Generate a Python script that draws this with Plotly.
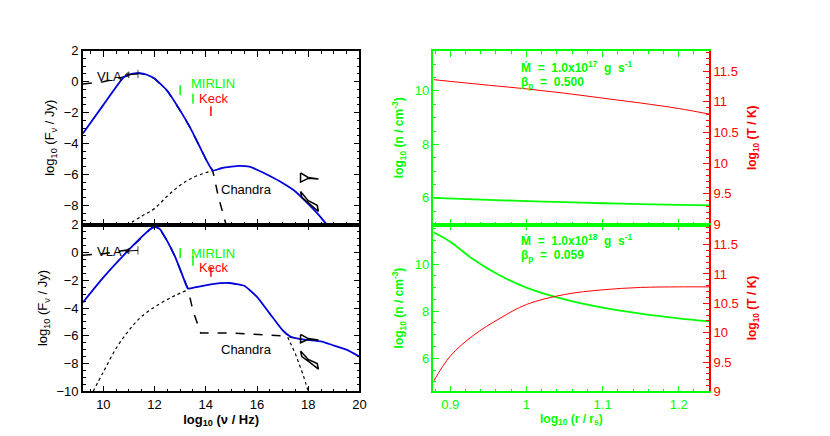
import plotly.graph_objects as go

# ---- SED, top panel (Mdot = 1e17)
top_sum_x = [9.2, 10.0, 10.8, 11.1, 11.4, 11.7, 12.0, 12.5, 13.05, 13.4, 13.7, 14.0, 14.27, 14.6, 15.0, 15.3, 15.7, 16.0, 16.5, 17.0, 17.5, 18.0, 18.4, 18.75]
top_sum_y = [-3.35, -1.5, 0.3, 0.5, 0.55, 0.45, 0.2, -0.6, -2.0, -3.0, -4.0, -5.0, -5.75, -5.6, -5.5, -5.45, -5.5, -5.7, -6.1, -6.55, -7.1, -7.9, -8.6, -9.3]
top_syn_x = [9.2, 10.0, 10.8, 11.1, 11.4, 11.7, 12.0, 12.5, 13.05, 13.4, 13.7, 14.0, 14.27, 14.5, 14.8]
top_syn_y = [-0.15, 0.0, 0.3, 0.5, 0.55, 0.45, 0.2, -0.6, -2.0, -3.0, -4.0, -5.0, -5.75, -7.5, -9.3]
top_comp_x = [10.9, 11.5, 12.0, 12.5, 13.0, 13.5, 14.27]
top_comp_y = [-9.3, -8.7, -8.2, -7.4, -6.7, -6.2, -5.75]

# ---- SED, bottom panel (Mdot = 1e18)
bot_sum_x = [9.2, 10.0, 11.0, 11.6, 11.85, 12.0, 12.2, 12.5, 12.8, 13.1, 13.3, 13.6, 14.2, 14.9, 15.5, 16.0, 16.5, 17.0, 17.3, 17.6, 18.0, 18.5, 19.0, 19.5, 20.0]
bot_sum_y = [-3.6, -1.8, 0.2, 1.3, 1.7, 1.85, 1.7, 0.8, -0.3, -1.7, -2.6, -2.5, -2.3, -2.2, -2.4, -3.2, -4.4, -5.6, -6.05, -6.2, -6.3, -6.4, -6.7, -7.0, -7.5]
bot_syn_x = [9.2, 10.0, 11.0, 11.6, 11.85, 12.0, 12.2, 12.5, 12.8, 13.1, 13.3, 13.5, 13.8, 15.0, 16.0, 17.0, 17.5]
bot_syn_y = [-0.2, -0.1, 0.2, 1.3, 1.7, 1.85, 1.7, 0.8, -0.3, -1.7, -2.6, -4.2, -5.8, -5.8, -5.9, -6.0, -6.15]
bot_comp_x = [9.6, 10.0, 10.5, 11.0, 11.5, 12.2, 12.8, 13.3]
bot_comp_y = [-10.0, -8.6, -6.9, -5.6, -4.6, -3.7, -3.1, -2.7]
bot_comp2_x = [17.2, 17.5, 17.8, 18.0]
bot_comp2_y = [-6.1, -7.3, -8.8, -10.0]

mirlin_x = [13.0, 13.5]
mirlin_y = [-0.55, -1.1]
keck_x = [14.2]
keck_y = [-1.9]

# ---- radial profiles
r_top = [0.878, 0.95, 1.0, 1.05, 1.1, 1.15, 1.2, 1.24]
n_top = [6.0, 5.93, 5.88, 5.84, 5.8, 5.77, 5.74, 5.72]
t_top = [11.36, 11.27, 11.21, 11.14, 11.06, 10.98, 10.89, 10.8]
r_bot = [0.878, 0.9, 0.93, 0.966, 1.0, 1.05, 1.1, 1.15, 1.2, 1.24]
n_bot = [11.35, 10.95, 10.2, 9.5, 9.0, 8.5, 8.15, 7.9, 7.7, 7.57]
t_bot = [9.17, 9.6, 9.95, 10.25, 10.48, 10.65, 10.73, 10.77, 10.78, 10.78]

GREEN = "#00ff00"
RED = "#ff0000"
BLUE = "#0000dd"
FONT = "Liberation Sans"

fig = go.Figure()

def sed(xa, ya, sx, sy, dx, dy, extra=None):
    fig.add_trace(go.Scatter(x=dx, y=dy, mode="lines", line=dict(color="black", width=1.2, dash="dot", shape="spline"), xaxis=xa, yaxis=ya))
    if extra:
        fig.add_trace(go.Scatter(x=extra[0], y=extra[1], mode="lines", line=dict(color="black", width=1.2, dash="dot"), xaxis=xa, yaxis=ya))
    fig.add_trace(go.Scatter(x=sx, y=sy, mode="lines", line=dict(color="black", width=1.5, dash="dash"), xaxis=xa, yaxis=ya))

def total(xa, ya, x, y):
    fig.add_trace(go.Scatter(x=x, y=y, mode="lines", line=dict(color=BLUE, width=1.8, shape="spline", smoothing=0.4), xaxis=xa, yaxis=ya))

sed("x", "y", top_syn_x, top_syn_y, top_comp_x, top_comp_y)
total("x", "y", top_sum_x, top_sum_y)
sed("x2", "y2", bot_syn_x, bot_syn_y, bot_comp_x, bot_comp_y, (bot_comp2_x, bot_comp2_y))
total("x2", "y2", bot_sum_x, bot_sum_y)

for xa, ya, off, vla in [("x", "y", 0.0, 0.5), ("x2", "y2", 0.5, 0.15)]:
    fig.add_trace(go.Scatter(x=mirlin_x, y=[v + off for v in mirlin_y], mode="markers",
                             marker=dict(color=GREEN, size=7, symbol="line-ns", line=dict(color=GREEN, width=1.5)),
                             xaxis=xa, yaxis=ya))
    fig.add_trace(go.Scatter(x=keck_x, y=[v + off for v in keck_y], mode="markers",
                             marker=dict(color=RED, size=7, symbol="line-ns", line=dict(color=RED, width=1.5)),
                             xaxis=xa, yaxis=ya))
    fig.add_trace(go.Scatter(x=[10.95, 11.35], y=[vla - 0.05, vla], mode="lines+markers",
                             marker=dict(symbol=["triangle-left", "line-ns"], size=[5, 6], color="black", line=dict(color="black", width=1)),
                             line=dict(color="black", width=1), xaxis=xa, yaxis=ya))

# Chandra bowties
bow1_x = [17.7, 17.7, 18.0, 18.4, 18.0, 17.7]
bow1_y = [-5.9, -6.5, -6.25, -6.3, -6.2, -5.9]
bow2_x = [17.7, 17.75, 18.05, 18.4, 18.35, 18.0, 17.7]
bow2_y = [-7.1, -7.5, -7.9, -8.4, -8.0, -7.7, -7.1]
for xa, ya in [("x", "y"), ("x2", "y2")]:
    fig.add_trace(go.Scatter(x=bow1_x, y=bow1_y, mode="lines", line=dict(color="black", width=1.5), xaxis=xa, yaxis=ya))
    fig.add_trace(go.Scatter(x=bow2_x, y=bow2_y, mode="lines", line=dict(color="black", width=1.5), xaxis=xa, yaxis=ya))

# profiles
fig.add_trace(go.Scatter(x=r_top, y=n_top, mode="lines", line=dict(color=GREEN, width=1.8, shape="spline"), xaxis="x3", yaxis="y3"))
fig.add_trace(go.Scatter(x=r_top, y=t_top, mode="lines", line=dict(color=RED, width=1, shape="spline"), xaxis="x3", yaxis="y5"))
fig.add_trace(go.Scatter(x=r_bot, y=n_bot, mode="lines", line=dict(color=GREEN, width=1.8, shape="spline"), xaxis="x4", yaxis="y4"))
fig.add_trace(go.Scatter(x=r_bot, y=t_bot, mode="lines", line=dict(color=RED, width=1, shape="spline"), xaxis="x4", yaxis="y6"))

LX = [0.091, 0.427]
RX = [0.517, 0.852]
TOP = [0.502, 0.915]
BOT = [0.106, 0.502]
tick = dict(ticks="inside", ticklen=6, mirror="ticks", showline=True, linewidth=1.5, showgrid=False, zeroline=False,
            minor=dict(ticks="inside", ticklen=3, showgrid=False))
tf = dict(family=FONT, size=13, color="black")
gf = dict(family=FONT, size=13, color=GREEN)
rf = dict(family=FONT, size=13, color=RED)
ry = dict(ticks="inside", ticklen=6, showline=True, linewidth=1.5, showgrid=False, zeroline=False,
          minor=dict(ticks="inside", ticklen=3))
tt = dict(text="log<sub>10</sub> (T / K)", font=dict(family=FONT, size=12, color=RED, weight="bold"), standoff=10)

fig.update_layout(
    width=830, height=436, margin=dict(l=0, r=0, t=0, b=0),
    plot_bgcolor="white", paper_bgcolor="white", showlegend=False,
    xaxis=dict(domain=LX, range=[9.2, 20], anchor="y", dtick=2, showticklabels=False, linecolor="black", tickcolor="black", **tick),
    yaxis=dict(domain=TOP, range=[-9.25, 2], anchor="x", dtick=2, linecolor="black", tickcolor="black", tickfont=tf,
               title=dict(text="log<sub>10</sub> (F<sub>ν</sub> / Jy)", font=tf, standoff=6), **tick),
    xaxis2=dict(domain=LX, range=[9.2, 20], anchor="y2", dtick=2, linecolor="black", tickcolor="black", tickfont=tf,
                title=dict(text="<b>log<sub>10</sub> (ν / Hz)</b>", font=tf, standoff=2), **tick),
    yaxis2=dict(domain=BOT, range=[-10, 2], anchor="x2", dtick=2, linecolor="black", tickcolor="black", tickfont=tf,
                title=dict(text="log<sub>10</sub> (F<sub>ν</sub> / Jy)", font=tf, standoff=6), **tick),
    xaxis3=dict(domain=RX, range=[0.878, 1.24], anchor="y3", dtick=0.1, showticklabels=False, linecolor=GREEN, tickcolor=GREEN, **tick),
    yaxis3=dict(domain=TOP, range=[5.0, 11.5], anchor="x3", dtick=2, linecolor=GREEN, tickcolor=GREEN, tickfont=gf,
                title=dict(text="<b>log<sub>10</sub> (n / cm<sup>-3</sup>)</b>", font=dict(family=FONT, size=12, color=GREEN), standoff=8), **ry),
    yaxis5=dict(overlaying="y3", side="right", anchor="x3", range=[9, 11.83], dtick=0.5, linecolor=RED, tickcolor=RED, tickfont=rf,
                title=tt, **ry),
    xaxis4=dict(domain=RX, range=[0.878, 1.24], anchor="y4", dtick=0.1, linecolor=GREEN, tickcolor=GREEN, tickfont=gf,
                title=dict(text="<b>log<sub>10</sub> (r / r<sub>s</sub>)</b>", font=dict(family=FONT, size=12, color=GREEN), standoff=2), **tick),
    yaxis4=dict(domain=BOT, range=[4.6, 11.67], anchor="x4", dtick=2, linecolor=GREEN, tickcolor=GREEN, tickfont=gf,
                title=dict(text="<b>log<sub>10</sub> (n / cm<sup>-3</sup>)</b>", font=dict(family=FONT, size=12, color=GREEN), standoff=8), **ry),
    yaxis6=dict(overlaying="y4", side="right", anchor="x4", range=[9, 11.84], dtick=0.5, linecolor=RED, tickcolor=RED, tickfont=rf,
                title=tt, **ry),
)

af = dict(family=FONT, size=13)
ann = []
for xr, yr in [("x", "y"), ("x2", "y2")]:
    ann += [
        dict(x=10.25, y=0.35 if xr == "x" else 0.1, xref=xr, yref=yr, text="VLA", font=dict(**af, color="black")),
        dict(x=14.3, y=-0.1, xref=xr, yref=yr, text="MIRLIN", font=dict(**af, color=GREEN)),
        dict(x=14.3, y=-1.1, xref=xr, yref=yr, text="Keck", font=dict(**af, color=RED)),
        dict(x=15.6, y=-7.0, xref=xr, yref=yr, text="Chandra", font=dict(**af, color="black")),
    ]
ann += [
    dict(x=0.99, y=10.9, xref="x3", yref="y3", xanchor="left", yanchor="middle", align="left",
         text="<b>Ṁ  =  1.0x10<sup>17</sup>  g  s<sup>-1</sup></b>", font=dict(family=FONT, size=12, color=GREEN)),
    dict(x=0.99, y=10.3, xref="x3", yref="y3", xanchor="left", yanchor="middle", align="left",
         text="<b>β<sub>p</sub>  =  0.500</b>", font=dict(family=FONT, size=12, color=GREEN)),
    dict(x=0.99, y=11.0, xref="x4", yref="y4", xanchor="left", yanchor="middle", align="left",
         text="<b>Ṁ  =  1.0x10<sup>18</sup>  g  s<sup>-1</sup></b>", font=dict(family=FONT, size=12, color=GREEN)),
    dict(x=0.99, y=10.35, xref="x4", yref="y4", xanchor="left", yanchor="middle", align="left",
         text="<b>β<sub>p</sub>  =  0.059</b>", font=dict(family=FONT, size=12, color=GREEN)),
]
for a in ann:
    a["showarrow"] = False
fig.update_layout(annotations=ann)

fig.write_html("out.html")
